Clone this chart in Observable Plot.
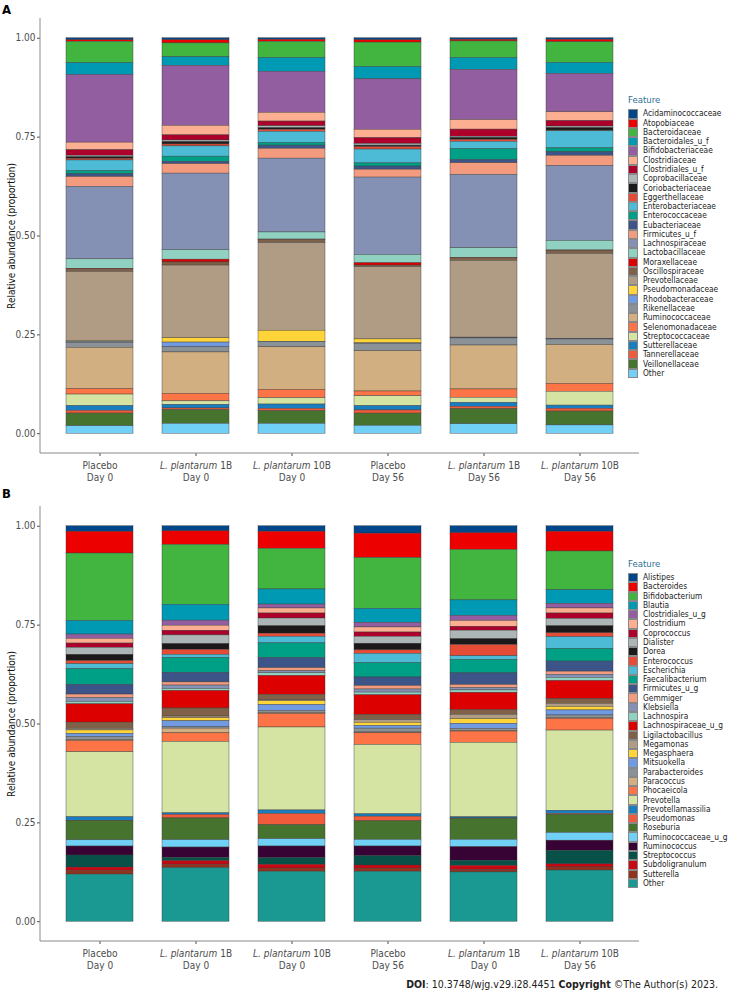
<!DOCTYPE html>
<html><head><meta charset="utf-8">
<script src="https://cdn.jsdelivr.net/npm/d3@7"></script>
<script src="https://cdn.jsdelivr.net/npm/@observablehq/plot@0.6"></script>
<style>
body{margin:0;background:#fff;}
#wrap{position:relative;width:730px;height:997px;font-family:"DejaVu Sans Condensed","DejaVu Sans",sans-serif;overflow:hidden;}
.pl{position:absolute;left:0;}
.letter{position:absolute;left:2px;font-weight:bold;font-size:13px;color:#000;}
.lg{position:absolute;left:628px;}
.lg .t{font-size:9.5px;color:#2f6f96;height:15px;line-height:12px;}
.lg .r{height:9.27px;display:flex;align-items:center;white-space:nowrap;}
.lg .s{width:10px;height:9.27px;box-sizing:border-box;border:0.5px solid #888;flex:none;}
.lg .n{margin-left:5px;font-size:8.3px;color:#222;line-height:9px;}
#cap{position:absolute;right:12px;top:978px;font-size:10.5px;color:#222;white-space:nowrap;}
</style>
</head><body>
<div id="wrap">
  <div class="pl" id="A" style="top:0"></div>
  <div class="pl" id="B" style="top:488px"></div>
  <div class="letter" style="top:2px">A</div>
  <div class="letter" style="top:486px">B</div>
  <div id="cap"><b>DOI</b>: 10.3748/wjg.v29.i28.4451 <b>Copyright</b> ©The Author(s) 2023.</div>
</div>
<script>
// ---- groups and tick labels ----
const groupKeys = ["P0", "L1B0", "L10B0", "P56", "L1B56", "L10B56"];
const xLabelsA = ["Placebo\nDay 0", "L. plantarum 1B\nDay 0", "L. plantarum 10B\nDay 0", "Placebo\nDay 56", "L. plantarum 1B\nDay 56", "L. plantarum 10B\nDay 56"];
const xLabelsB = ["Placebo\nDay 0", "L. plantarum 1B\nDay 0", "L. plantarum 10B\nDay 0", "Placebo\nDay 56", "L. plantarum 1B\nDay 0", "L. plantarum 10B\nDay 56"];
const yTicks = [0, 0.25, 0.5, 0.75, 1];

// ---- palettes (ggsci lancet + npg + simpsons) ----
const paletteLancet = ["#00468B", "#ED0000", "#42B540", "#0099B4", "#925E9F", "#FDAF91", "#AD002A", "#ADB6B6", "#1B1919"];
const paletteNPG = ["#E64B35", "#4DBBD5", "#00A087", "#3C5488", "#F39B7F", "#8491B4", "#91D1C2", "#DC0000", "#7E6148", "#B09C85"];
const paletteSimpsons = ["#FED439", "#709AE1", "#8A9197", "#D2AF81", "#FD7446", "#D5E4A2", "#197EC0", "#F05C3B", "#46732E", "#71D0F5", "#370335", "#075149", "#C80813", "#91331F", "#1A9993", "#FD8CC1"];
const palette = [...paletteLancet, ...paletteNPG, ...paletteSimpsons];

// ---- panel A: families (legend order = top of stack first) ----
const familyNames = ["Acidaminococcaceae","Atopobiaceae","Bacteroidaceae","Bacteroidales_u_f","Bifidobacteriaceae","Clostridiaceae","Clostridiales_u_f","Coprobacillaceae","Coriobacteriaceae","Eggerthellaceae","Enterobacteriaceae","Enterococcaceae","Eubacteriaceae","Firmicutes_u_f","Lachnospiraceae","Lactobacillaceae","Moraxellaceae","Oscillospiraceae","Prevotellaceae","Pseudomonadaceae","Rhodobacteraceae","Rikenellaceae","Ruminococcaceae","Selenomonadaceae","Streptococcaceae","Sutterellaceae","Tannerellaceae","Veillonellaceae","Other"];
const famPlaceboDay0  = [0.005,0.004,0.054,0.030,0.171,0.019,0.014,0.004,0.004,0.004,0.027,0.008,0.007,0.025,0.183,0.024,0.001,0.007,0.175,0.002,0.002,0.013,0.104,0.014,0.029,0.012,0.007,0.032,0.019];
const famLp1BDay0     = [0.005,0.008,0.035,0.022,0.152,0.024,0.013,0.004,0.006,0.005,0.026,0.013,0.006,0.024,0.194,0.024,0.007,0.008,0.184,0.011,0.012,0.013,0.105,0.019,0.009,0.009,0.004,0.035,0.025];
const famLp10BDay0    = [0.004,0.005,0.041,0.035,0.104,0.022,0.012,0.005,0.004,0.005,0.028,0.007,0.008,0.025,0.187,0.018,0.001,0.008,0.222,0.028,0.001,0.013,0.108,0.021,0.016,0.011,0.006,0.032,0.025];
const famPlaceboDay56 = [0.005,0.006,0.062,0.031,0.128,0.021,0.015,0.004,0.004,0.006,0.035,0.008,0.008,0.020,0.196,0.021,0.006,0.004,0.183,0.010,0.001,0.019,0.102,0.012,0.025,0.011,0.008,0.031,0.020];
const famLp1BDay56    = [0.004,0.004,0.042,0.030,0.127,0.024,0.018,0.003,0.005,0.005,0.018,0.028,0.008,0.030,0.185,0.024,0.001,0.007,0.194,0.001,0.001,0.018,0.111,0.021,0.013,0.010,0.006,0.038,0.024];
const famLp10BDay56   = [0.004,0.006,0.052,0.028,0.097,0.022,0.014,0.004,0.006,0.002,0.043,0.010,0.009,0.026,0.189,0.024,0.001,0.008,0.214,0.001,0.001,0.014,0.098,0.020,0.035,0.008,0.007,0.035,0.021];

// ---- panel B: genera ----
const genusNames = ["Alistipes","Bacteroides","Bifidobacterium","Blautia","Clostridiales_u_g","Clostridium","Coprococcus","Dialister","Dorea","Enterococcus","Escherichia","Faecalibacterium","Firmicutes_u_g","Gemmiger","Klebsiella","Lachnospira","Lachnospiraceae_u_g","Ligilactobacillus","Megamonas","Megasphaera","Mitsuokella","Parabacteroides","Paracoccus","Phocaeicola","Prevotella","Prevotellamassilia","Pseudomonas","Roseburia","Ruminococcaceae_u_g","Ruminococcus","Streptococcus","Subdoligranulum","Sutterella","Other"];
const genPlaceboDay0  = [0.014,0.056,0.173,0.035,0.011,0.012,0.011,0.018,0.016,0.008,0.013,0.040,0.025,0.009,0.010,0.006,0.047,0.016,0.004,0.009,0.008,0.008,0.002,0.029,0.167,0.009,0.001,0.049,0.016,0.023,0.031,0.008,0.010,0.121];
const genLp1BDay0     = [0.013,0.035,0.154,0.041,0.013,0.013,0.012,0.022,0.015,0.013,0.008,0.038,0.025,0.008,0.009,0.005,0.045,0.021,0.004,0.008,0.015,0.004,0.012,0.022,0.184,0.004,0.009,0.056,0.019,0.027,0.008,0.009,0.009,0.138];
const genLp10BDay0    = [0.014,0.044,0.105,0.039,0.010,0.013,0.013,0.020,0.019,0.008,0.017,0.038,0.026,0.008,0.005,0.007,0.049,0.014,0.002,0.010,0.015,0.006,0.002,0.035,0.214,0.009,0.029,0.036,0.019,0.030,0.017,0.010,0.008,0.129];
const genPlaceboDay56 = [0.019,0.063,0.131,0.036,0.012,0.013,0.011,0.018,0.017,0.009,0.024,0.037,0.022,0.009,0.008,0.007,0.051,0.013,0.007,0.008,0.007,0.010,0.002,0.030,0.179,0.006,0.012,0.048,0.017,0.025,0.024,0.008,0.008,0.129];
const genLp1BDay56    = [0.018,0.043,0.130,0.040,0.013,0.015,0.010,0.022,0.015,0.029,0.009,0.035,0.030,0.008,0.006,0.006,0.045,0.012,0.011,0.012,0.013,0.005,0.002,0.029,0.192,0.003,0.001,0.054,0.019,0.035,0.013,0.010,0.007,0.127];
const genLp10BDay56   = [0.014,0.051,0.100,0.035,0.012,0.013,0.014,0.019,0.018,0.010,0.030,0.033,0.026,0.008,0.008,0.008,0.047,0.012,0.008,0.009,0.013,0.007,0.002,0.030,0.207,0.008,0.002,0.047,0.020,0.026,0.035,0.008,0.008,0.132];

const FONT = '"DejaVu Sans Condensed","DejaVu Sans",sans-serif';

function tidy(features, series) {
  const rows = [];
  series.forEach((vals, gi) => {
    vals.forEach((v, fi) => rows.push({group: groupKeys[gi], feature: features[fi], value: v}));
  });
  return rows;
}

function panel(features, series, labels) {
  const data = tidy(features, series);
  const colors = palette.slice(0, features.length);
  const chart = Plot.plot({
    width: 730, height: 488,
    marginLeft: 40, marginRight: 91, marginTop: 18, marginBottom: 35,
    style: {fontFamily: FONT, fontSize: "10px", background: "white", overflow: "visible"},
    x: {domain: groupKeys, paddingInner: 0.3, paddingOuter: 0.25, axis: null},
    y: {domain: [-0.05, 1.05], axis: null},
    color: {domain: features, range: colors},
    marks: [
      Plot.barY(data, {
        x: "group", y: "value", z: "feature", fill: "feature",
        order: [...features].reverse(), offset: "normalize",
        stroke: "#3a3a3a", strokeWidth: 0.45, strokeOpacity: 0.9
      }),
      Plot.axisY({
        ticks: yTicks, tickFormat: d3.format(".2f"), tickSize: 3, tickPadding: 2,
        color: "#4d4d4d", fontSize: 10,
        label: "Relative abundance (proportion)", labelAnchor: "center", labelOffset: 33, labelArrow: "none"
      }),
      Plot.axisX({
        tickFormat: (d) => labels[groupKeys.indexOf(d)], tickSize: 3, tickPadding: 4,
        color: "#4d4d4d", fontSize: 10, lineHeight: 1.2, label: null
      }),
      (index, scales, values, dimensions) => {
        const g = d3.create("svg:g").attr("stroke", "#8a8a8a").attr("stroke-width", 1);
        const yb = scales.y(-0.05), yt = scales.y(1.05);
        g.append("line").attr("x1", dimensions.marginLeft).attr("x2", dimensions.marginLeft).attr("y1", yt).attr("y2", yb);
        g.append("line").attr("x1", dimensions.marginLeft).attr("x2", dimensions.width - dimensions.marginRight).attr("y1", yb).attr("y2", yb);
        return g.node();
      }
    ]
  });
  // y label colour
  d3.select(chart).selectAll('[aria-label="y-axis label"]').attr("fill", "#111");
  // italic species names in x tick labels
  d3.select(chart).selectAll('[aria-label="x-axis tick label"] text').each(function() {
    const t = d3.select(this);
    const spans = t.selectAll("tspan").nodes();
    const targets = spans.length ? spans : [this];
    targets.forEach(node => {
      const s = node.textContent;
      if (s.startsWith("L. plantarum")) {
        const rest = s.slice("L. plantarum".length);
        node.textContent = "";
        d3.select(node).append("tspan").attr("font-style", "italic").text("L. plantarum");
        d3.select(node).append("tspan").text(rest);
      }
    });
  });
  return chart;
}

function legend(features, top) {
  const lg = d3.select("#wrap").append("div").attr("class", "lg").style("top", top + "px");
  lg.append("div").attr("class", "t").text("Feature");
  features.forEach((f, i) => {
    const r = lg.append("div").attr("class", "r");
    r.append("div").attr("class", "s").style("background", palette[i]);
    r.append("div").attr("class", "n").text(f);
  });
}

document.getElementById("A").appendChild(panel(familyNames,
  [famPlaceboDay0, famLp1BDay0, famLp10BDay0, famPlaceboDay56, famLp1BDay56, famLp10BDay56], xLabelsA));
document.getElementById("B").appendChild(panel(genusNames,
  [genPlaceboDay0, genLp1BDay0, genLp10BDay0, genPlaceboDay56, genLp1BDay56, genLp10BDay56], xLabelsB));
legend(familyNames, 94.3);
legend(genusNames, 558);
</script>
</body></html>
